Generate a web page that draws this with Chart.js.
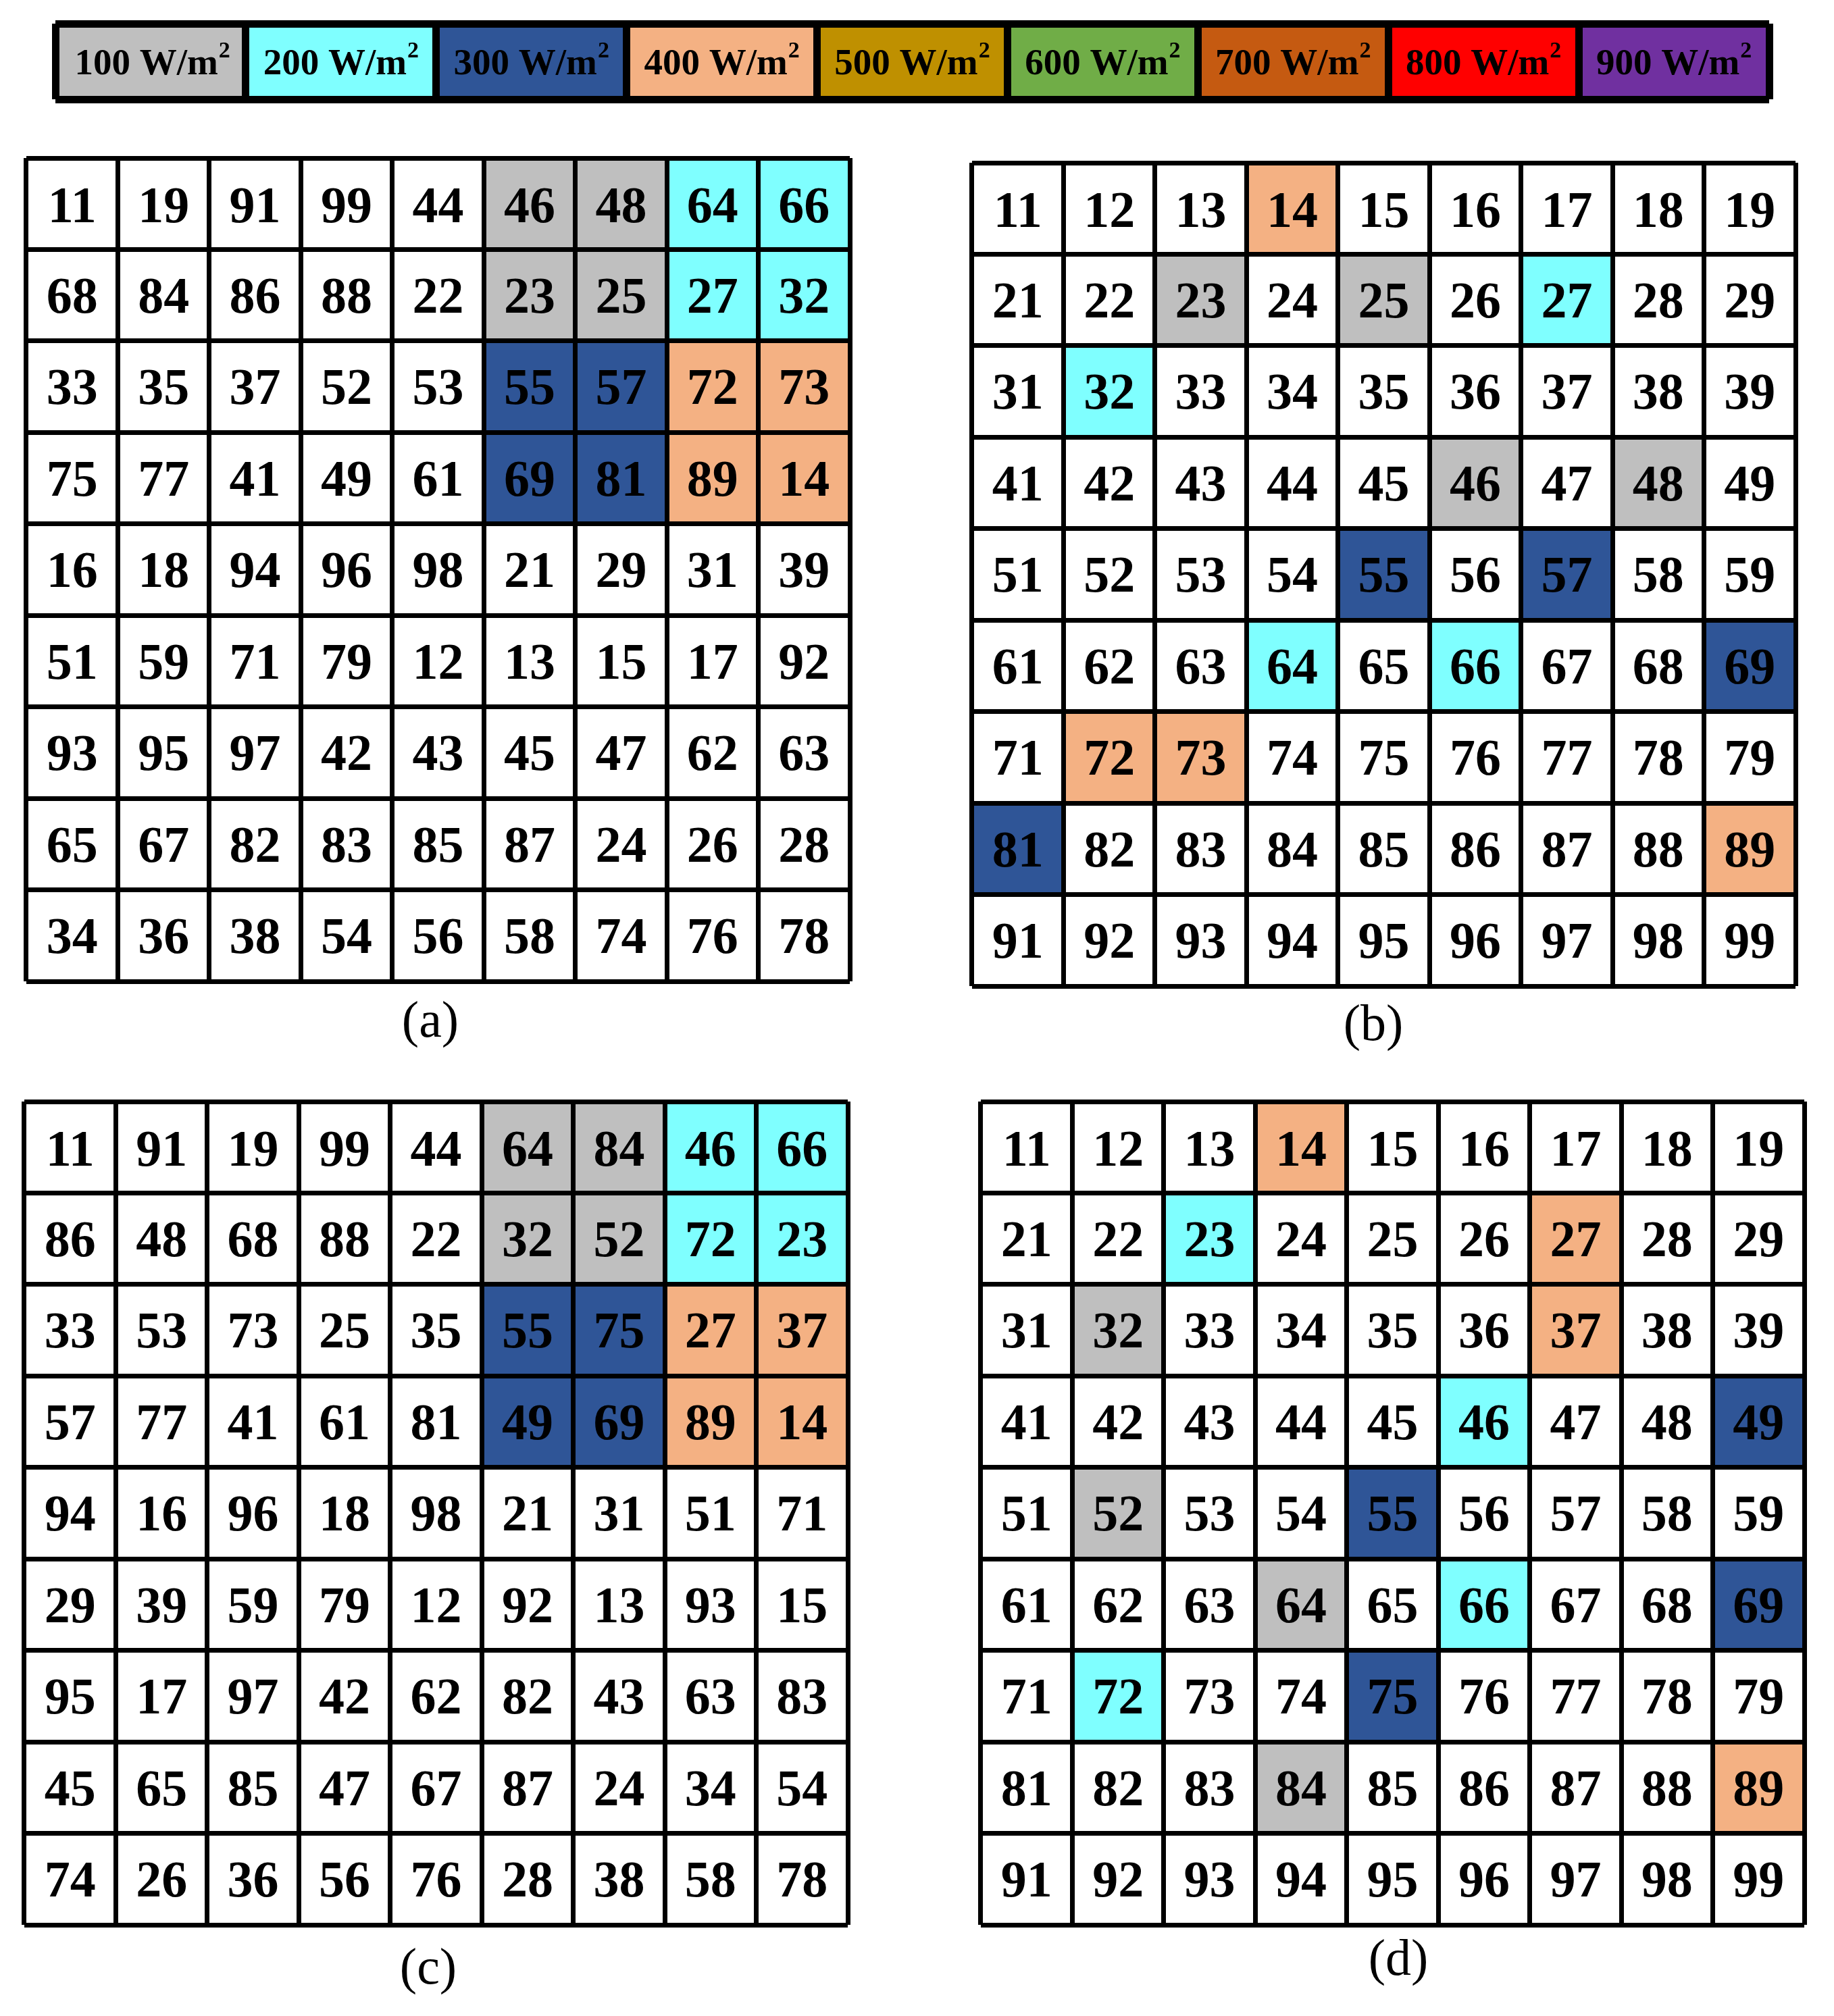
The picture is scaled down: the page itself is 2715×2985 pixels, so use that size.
<!DOCTYPE html>
<html>
<head>
<meta charset="utf-8">
<script src="https://cdn.jsdelivr.net/npm/chart.js@4.4.0/dist/chart.umd.min.js"></script>
<style>
  body { margin: 0; background: #fff; width: 2715px; height: 2985px; position: relative; overflow: hidden; }
  .box { position: absolute; }
  .cap {
    position: absolute;
    font-family: "Liberation Serif", "Times New Roman", serif;
    font-size: 76px;
    line-height: 1;
    transform: translate(-50%, -50%);
    white-space: nowrap;
  }
</style>
</head>
<body>
<div class="box" style="left:70px;top:23px"><canvas id="legend" width="2561" height="136"></canvas></div>
<div class="box" style="left:29px;top:224px"><canvas id="gridA" width="1239" height="1239"></canvas></div>
<div class="box" style="left:1429px;top:231px"><canvas id="gridB" width="1239" height="1239"></canvas></div>
<div class="box" style="left:26px;top:1621px"><canvas id="gridC" width="1239" height="1239"></canvas></div>
<div class="box" style="left:1442px;top:1621px"><canvas id="gridD" width="1239" height="1239"></canvas></div>
<div class="cap" style="left:637px;top:1509px">(a)</div>
<div class="cap" style="left:2033px;top:1514px">(b)</div>
<div class="cap" style="left:634px;top:2911px">(c)</div>
<div class="cap" style="left:2070px;top:2898px">(d)</div>
<script>
// legend: irradiance levels
const legendLabels = ['100 W/m', '200 W/m', '300 W/m', '400 W/m', '500 W/m', '600 W/m', '700 W/m', '800 W/m', '900 W/m'];
const legendColors = ['#BFBFBF', '#7FFFFF', '#2F5597', '#F4B183', '#BF9000', '#70AD47', '#C55A11', '#FF0000', '#7030A0'];

const columns = ['1', '2', '3', '4', '5', '6', '7', '8', '9'];

// panel numbers, row by row
const gridA = [
  [11, 19, 91, 99, 44, 46, 48, 64, 66],
  [68, 84, 86, 88, 22, 23, 25, 27, 32],
  [33, 35, 37, 52, 53, 55, 57, 72, 73],
  [75, 77, 41, 49, 61, 69, 81, 89, 14],
  [16, 18, 94, 96, 98, 21, 29, 31, 39],
  [51, 59, 71, 79, 12, 13, 15, 17, 92],
  [93, 95, 97, 42, 43, 45, 47, 62, 63],
  [65, 67, 82, 83, 85, 87, 24, 26, 28],
  [34, 36, 38, 54, 56, 58, 74, 76, 78]
];
const gridB = [
  [11, 12, 13, 14, 15, 16, 17, 18, 19],
  [21, 22, 23, 24, 25, 26, 27, 28, 29],
  [31, 32, 33, 34, 35, 36, 37, 38, 39],
  [41, 42, 43, 44, 45, 46, 47, 48, 49],
  [51, 52, 53, 54, 55, 56, 57, 58, 59],
  [61, 62, 63, 64, 65, 66, 67, 68, 69],
  [71, 72, 73, 74, 75, 76, 77, 78, 79],
  [81, 82, 83, 84, 85, 86, 87, 88, 89],
  [91, 92, 93, 94, 95, 96, 97, 98, 99]
];
const gridC = [
  [11, 91, 19, 99, 44, 64, 84, 46, 66],
  [86, 48, 68, 88, 22, 32, 52, 72, 23],
  [33, 53, 73, 25, 35, 55, 75, 27, 37],
  [57, 77, 41, 61, 81, 49, 69, 89, 14],
  [94, 16, 96, 18, 98, 21, 31, 51, 71],
  [29, 39, 59, 79, 12, 92, 13, 93, 15],
  [95, 17, 97, 42, 62, 82, 43, 63, 83],
  [45, 65, 85, 47, 67, 87, 24, 34, 54],
  [74, 26, 36, 56, 76, 28, 38, 58, 78]
];
const gridD = [
  [11, 12, 13, 14, 15, 16, 17, 18, 19],
  [21, 22, 23, 24, 25, 26, 27, 28, 29],
  [31, 32, 33, 34, 35, 36, 37, 38, 39],
  [41, 42, 43, 44, 45, 46, 47, 48, 49],
  [51, 52, 53, 54, 55, 56, 57, 58, 59],
  [61, 62, 63, 64, 65, 66, 67, 68, 69],
  [71, 72, 73, 74, 75, 76, 77, 78, 79],
  [81, 82, 83, 84, 85, 86, 87, 88, 89],
  [91, 92, 93, 94, 95, 96, 97, 98, 99]
];

// shaded modules per irradiance level (100, 200, 300, 400 W/m2)
const level100AB = [46, 48, 23, 25];
const level200AB = [64, 66, 27, 32];
const level300AB = [55, 57, 69, 81];
const level400AB = [72, 73, 89, 14];
const level100CD = [64, 84, 32, 52];
const level200CD = [46, 66, 72, 23];
const level300CD = [55, 75, 49, 69];
const level400CD = [27, 37, 89, 14];

const levelsAB = [level100AB, level200AB, level300AB, level400AB];
const levelsCD = [level100CD, level200CD, level300CD, level400CD];

function cellColor(num, levels) {
  for (let k = 0; k < levels.length; k++) {
    if (levels[k].includes(num)) return legendColors[k];
  }
  return '#FFFFFF';
}

const cellText = {
  id: 'cellText',
  afterDatasetsDraw(chart) {
    const ctx = chart.ctx;
    const size = 76;
    ctx.save();
    ctx.font = 'bold ' + size + 'px "Liberation Serif", "Times New Roman", serif';
    ctx.fillStyle = '#000';
    ctx.textAlign = 'center';
    ctx.textBaseline = 'alphabetic';
    chart.data.datasets.forEach((ds, i) => {
      chart.getDatasetMeta(i).data.forEach((bar, j) => {
        const cy = (bar.y + bar.base) / 2;
        ctx.fillText(String(ds.numbers[j]), bar.x, cy + size * 0.34);
      });
    });
    ctx.restore();
  }
};

function makeGrid(id, grid, levels) {
  const datasets = grid.map((row, r) => ({
    label: 'row ' + (r + 1),
    data: row.map(() => 1),
    numbers: row,
    backgroundColor: row.map(n => cellColor(n, levels)),
    borderWidth: 0,
    categoryPercentage: 1,
    barPercentage: 1
  }));

  new Chart(document.getElementById(id), {
    type: 'bar',
    data: { labels: columns, datasets: datasets },
    options: {
      responsive: false,
      maintainAspectRatio: false,
      animation: false,
      events: [],
      layout: { padding: 10 },
      plugins: { legend: { display: false }, tooltip: { enabled: false } },
      scales: {
        x: {
          stacked: true,
          offset: true,
          grid: { offset: true, color: '#000', lineWidth: 7, drawTicks: false, z: 1 },
          border: { display: false },
          ticks: { display: false }
        },
        y: {
          stacked: true,
          reverse: true,
          min: 0,
          max: 9,
          grid: { color: '#000', lineWidth: 7, drawTicks: false, z: 1 },
          border: { display: false },
          ticks: { display: false, stepSize: 1 }
        }
      }
    },
    plugins: [cellText]
  });
}

makeGrid('gridA', gridA, levelsAB);
makeGrid('gridB', gridB, levelsAB);
makeGrid('gridC', gridC, levelsCD);
makeGrid('gridD', gridD, levelsCD);

// legend bar
const legendText = {
  id: 'legendText',
  afterDatasetsDraw(chart) {
    const ctx = chart.ctx;
    const big = 55, small = 34;
    ctx.save();
    ctx.fillStyle = '#000';
    ctx.textAlign = 'left';
    ctx.textBaseline = 'alphabetic';
    chart.data.datasets.forEach((ds, i) => {
      const bar = chart.getDatasetMeta(i).data[0];
      const cx = (bar.x + bar.base) / 2;
      const base = bar.y + big * 0.34;
      ctx.font = 'bold ' + big + 'px "Liberation Serif", "Times New Roman", serif';
      const w1 = ctx.measureText(ds.label).width;
      ctx.font = 'bold ' + small + 'px "Liberation Serif", "Times New Roman", serif';
      const w2 = ctx.measureText('2').width;
      const x0 = cx - (w1 + w2 + 1) / 2;
      ctx.font = 'bold ' + big + 'px "Liberation Serif", "Times New Roman", serif';
      ctx.fillText(ds.label, x0, base);
      ctx.font = 'bold ' + small + 'px "Liberation Serif", "Times New Roman", serif';
      ctx.fillText('2', x0 + w1 + 1, base - 25);
    });
    ctx.restore();
  }
};

new Chart(document.getElementById('legend'), {
  type: 'bar',
  data: {
    labels: [''],
    datasets: legendLabels.map((lab, i) => ({
      label: lab,
      data: [1],
      backgroundColor: legendColors[i],
      borderWidth: 0,
      categoryPercentage: 1,
      barPercentage: 1
    }))
  },
  options: {
    indexAxis: 'y',
    responsive: false,
    maintainAspectRatio: false,
    animation: false,
    events: [],
    layout: { padding: 12 },
    plugins: { legend: { display: false }, tooltip: { enabled: false } },
    scales: {
      x: {
        stacked: true,
        min: 0,
        max: 9,
        grid: { color: '#000', lineWidth: 11, drawTicks: false, z: 1 },
        border: { display: false },
        ticks: { display: false, stepSize: 1 }
      },
      y: {
        stacked: true,
        offset: true,
        grid: { offset: true, color: '#000', lineWidth: 11, drawTicks: false, z: 1 },
        border: { display: false },
        ticks: { display: false }
      }
    }
  },
  plugins: [legendText]
});
</script>
</body>
</html>
